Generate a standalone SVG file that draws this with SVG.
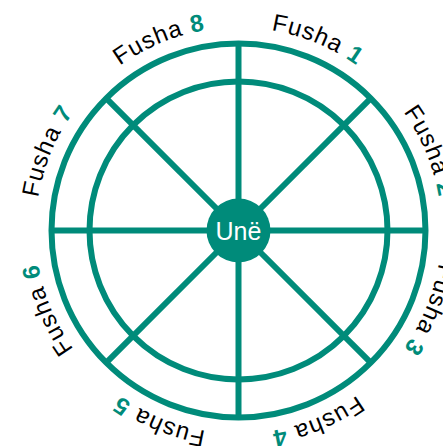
<svg xmlns="http://www.w3.org/2000/svg" width="443" height="446" viewBox="0 0 443 446">
  <style>
    .ring { fill: none; stroke: #008b7a; stroke-width: 6; }
    .spoke { stroke: #008b7a; stroke-width: 6; }
    .lbl { font-family: "Liberation Sans", Arial, sans-serif; font-size: 24px; fill: #000; letter-spacing: 1px; }
    .num { font-weight: bold; fill: #008b7a; }
    .center-text { font-family: "Liberation Sans", Arial, sans-serif; font-size: 25px; fill: #fff; }
  </style>
  <defs>
    <path id="labelPath" d="M 238.5 27.5 A 203 203 0 1 1 238.5 433.5 A 203 203 0 1 1 238.5 27.5"/>
  </defs>
  <g id="wheel">
    <circle class="ring" cx="238.5" cy="230.5" r="187"/>
    <circle class="ring" cx="238.5" cy="230.5" r="149"/>
  </g>
  <g id="connectors">
    <line class="spoke" x1="238.5" y1="230.5" x2="238.5" y2="43.5"/>
    <line class="spoke" x1="238.5" y1="230.5" x2="238.5" y2="417.5"/>
    <line class="spoke" x1="238.5" y1="230.5" x2="51.5" y2="230.5"/>
    <line class="spoke" x1="238.5" y1="230.5" x2="425.5" y2="230.5"/>
    <line class="spoke" x1="238.5" y1="230.5" x2="370.7" y2="98.3"/>
    <line class="spoke" x1="238.5" y1="230.5" x2="370.7" y2="362.7"/>
    <line class="spoke" x1="238.5" y1="230.5" x2="106.3" y2="362.7"/>
    <line class="spoke" x1="238.5" y1="230.5" x2="106.3" y2="98.3"/>
  </g>
  <g id="une">
    <circle cx="238.5" cy="230.5" r="32" fill="#008b7a"/>
    <text class="center-text" x="238.5" y="239.5" text-anchor="middle">Unë</text>
  </g>
  <g id="fusha-1"><text class="lbl" text-anchor="middle"><textPath href="#labelPath" startOffset="6.25%">Fusha <tspan class="num">1</tspan></textPath></text></g>
  <g id="fusha-2"><text class="lbl" text-anchor="middle"><textPath href="#labelPath" startOffset="18.75%">Fusha <tspan class="num">2</tspan></textPath></text></g>
  <g id="fusha-3"><text class="lbl" text-anchor="middle"><textPath href="#labelPath" startOffset="31.25%">Fusha <tspan class="num">3</tspan></textPath></text></g>
  <g id="fusha-4"><text class="lbl" text-anchor="middle"><textPath href="#labelPath" startOffset="43.75%">Fusha <tspan class="num">4</tspan></textPath></text></g>
  <g id="fusha-5"><text class="lbl" text-anchor="middle"><textPath href="#labelPath" startOffset="56.25%">Fusha <tspan class="num">5</tspan></textPath></text></g>
  <g id="fusha-6"><text class="lbl" text-anchor="middle"><textPath href="#labelPath" startOffset="68.75%">Fusha <tspan class="num">6</tspan></textPath></text></g>
  <g id="fusha-7"><text class="lbl" text-anchor="middle"><textPath href="#labelPath" startOffset="81.25%">Fusha <tspan class="num">7</tspan></textPath></text></g>
  <g id="fusha-8"><text class="lbl" text-anchor="middle"><textPath href="#labelPath" startOffset="93.75%">Fusha <tspan class="num">8</tspan></textPath></text></g>
</svg>
